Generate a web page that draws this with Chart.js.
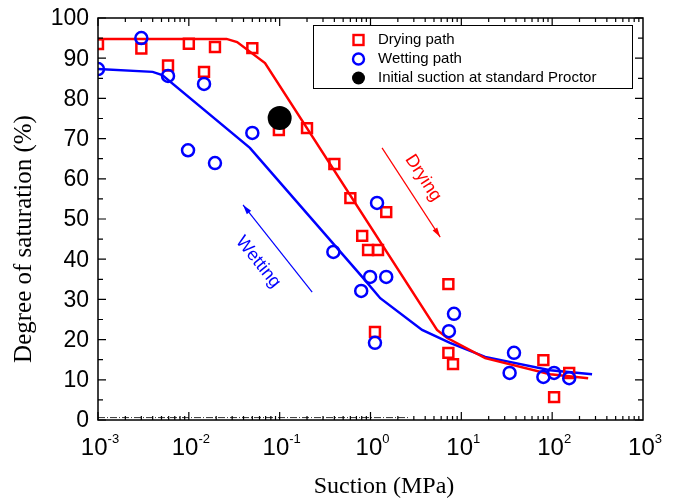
<!DOCTYPE html>
<html>
<head>
<meta charset="utf-8">
<script src="https://cdn.jsdelivr.net/npm/chart.js@4"></script>
<style>
  body { margin: 0; background: #fff; }
  #wrap { width: 676px; height: 502px; }
</style>
</head>
<body>
<div id="wrap"><canvas id="chartCanvas" width="676" height="502"></canvas></div>
<script>
// suction (MPa) and degree of saturation (%)
const dryX = [0.001, 0.003, 0.0059, 0.010, 0.0147, 0.0194, 0.050, 0.098, 0.20, 0.40, 0.60, 1.49, 0.81, 0.94, 1.21, 1.12, 7.2, 7.2, 8.1, 80, 105, 154];
const dryY = [93.5, 92.4, 88.2, 93.6, 86.6, 92.8, 92.5, 72.1, 72.6, 63.7, 55.2, 51.7, 45.8, 42.3, 42.3, 21.9, 33.8, 16.7, 13.9, 14.9, 5.7, 11.7];

const wetX = [0.001, 0.003, 0.0059, 0.0147, 0.0098, 0.0194, 0.050, 0.39, 1.18, 0.99, 1.49, 0.79, 1.12, 8.3, 7.3, 38, 34, 80, 105, 154];
const wetY = [87.3, 95.0, 85.6, 83.6, 67.1, 63.9, 71.4, 41.8, 54.0, 35.6, 35.6, 32.1, 19.2, 26.4, 22.1, 16.7, 11.7, 10.7, 11.7, 10.4];

const initX = [0.1];
const initY = [75.1];

const dryCurveX = [0.001, 0.026, 0.034, 0.069, 5.4, 7.0, 18.3, 95, 249];
const dryCurveY = [94.8, 94.8, 94.0, 88.8, 22.4, 20.4, 15.4, 11.4, 10.4];

const wetCurveX = [0.001, 0.004, 0.0051, 0.047, 0.81, 1.28, 3.7, 7.5, 18.3, 95, 275];
const wetCurveY = [87.3, 86.6, 85.8, 67.7, 35.6, 30.3, 22.4, 19.2, 15.7, 12.4, 11.4];

const baseX = [0.001, 2.6];
const baseY = [0.6, 0.6];

const xDecades = [-3, -2, -1, 0, 1, 2, 3];
const yTicks = [0, 10, 20, 30, 40, 50, 60, 70, 80, 90, 100];

const pts = (xs, ys) => xs.map((x, i) => ({ x: x, y: ys[i] }));

const RED = '#ff0000';
const BLUE = '#0000ff';
const SANS = '"Liberation Sans", Arial, sans-serif';
const SERIF = '"Liberation Serif", "Times New Roman", serif';

const axesPlugin = {
  id: 'axesPlugin',
  afterDraw(c) {
    const ctx = c.ctx;
    const a = c.chartArea;
    const xs = c.scales.x, ys = c.scales.y;
    ctx.save();
    ctx.strokeStyle = '#000';
    ctx.lineWidth = 1.5;
    ctx.strokeRect(a.left, a.top, a.right - a.left, a.bottom - a.top);

    // y ticks, left and right, inward
    ctx.lineWidth = 1.2;
    for (let v = 0; v <= 100; v += 5) {
      const py = ys.getPixelForValue(v);
      const len = v % 10 === 0 ? 8 : 5;
      ctx.beginPath();
      ctx.moveTo(a.left, py); ctx.lineTo(a.left + len, py);
      ctx.moveTo(a.right, py); ctx.lineTo(a.right - len, py);
      ctx.stroke();
    }
    // x ticks, bottom and top, inward
    for (let d = -3; d < 3; d++) {
      for (let m = 1; m <= 9; m++) {
        const px = xs.getPixelForValue(m * Math.pow(10, d));
        const len = m === 1 ? 8 : 4;
        ctx.beginPath();
        ctx.moveTo(px, a.bottom); ctx.lineTo(px, a.bottom - len);
        ctx.moveTo(px, a.top); ctx.lineTo(px, a.top + len);
        ctx.stroke();
      }
    }

    // tick labels
    ctx.fillStyle = '#000';
    ctx.font = '23px ' + SANS;
    ctx.textAlign = 'right';
    ctx.textBaseline = 'middle';
    yTicks.forEach(v => ctx.fillText(String(v), a.left - 9, ys.getPixelForValue(v) + 1));

    xDecades.forEach(d => {
      const px = xs.getPixelForValue(Math.pow(10, d));
      ctx.textBaseline = 'alphabetic';
      ctx.textAlign = 'left';
      ctx.font = '24px ' + SANS;
      const w1 = ctx.measureText('10').width;
      ctx.font = '13px ' + SANS;
      const ex = String(d);
      const w2 = ctx.measureText(ex).width;
      const x0 = px - (w1 + w2) / 2 + 2;
      ctx.font = '24px ' + SANS;
      ctx.fillText('10', x0, a.bottom + 35);
      ctx.font = '13px ' + SANS;
      ctx.fillText(ex, x0 + w1, a.bottom + 23);
    });

    // axis titles
    ctx.font = '24px ' + SERIF;
    ctx.textAlign = 'center';
    ctx.textBaseline = 'middle';
    ctx.fillText('Suction (MPa)', 384, 487);
    ctx.save();
    ctx.translate(24, 239);
    ctx.rotate(-Math.PI / 2);
    ctx.font = '25px ' + SERIF;
    ctx.fillText('Degree of saturation (%)', 0, 0);
    ctx.restore();

    // arrows and labels
    const arrow = (x1, y1, x2, y2, col) => {
      const p1 = [xs.getPixelForValue(x1), ys.getPixelForValue(y1)];
      const p2 = [xs.getPixelForValue(x2), ys.getPixelForValue(y2)];
      const ang = Math.atan2(p2[1] - p1[1], p2[0] - p1[0]);
      ctx.strokeStyle = col; ctx.fillStyle = col; ctx.lineWidth = 1.2;
      ctx.beginPath(); ctx.moveTo(p1[0], p1[1]); ctx.lineTo(p2[0], p2[1]); ctx.stroke();
      ctx.beginPath();
      ctx.moveTo(p2[0], p2[1]);
      ctx.lineTo(p2[0] - 10 * Math.cos(ang - 0.28), p2[1] - 10 * Math.sin(ang - 0.28));
      ctx.lineTo(p2[0] - 10 * Math.cos(ang + 0.28), p2[1] - 10 * Math.sin(ang + 0.28));
      ctx.closePath(); ctx.fill();
    };
    const label = (txt, x, y, rot, col) => {
      ctx.save();
      ctx.translate(xs.getPixelForValue(x), ys.getPixelForValue(y));
      ctx.rotate(rot * Math.PI / 180);
      ctx.fillStyle = col;
      ctx.font = '18px ' + SANS;
      ctx.textAlign = 'center'; ctx.textBaseline = 'middle';
      ctx.fillText(txt, 0, 0);
      ctx.restore();
    };
    arrow(1.34, 67.7, 5.85, 45.5, RED);
    label('Drying', 3.8, 60.2, 57, RED);
    arrow(0.228, 31.8, 0.0395, 53.5, BLUE);
    label('Wetting', 0.058, 39.3, 51, BLUE);

    // legend
    ctx.strokeStyle = '#000'; ctx.lineWidth = 1;
    ctx.strokeRect(313.5, 25.5, 319, 63);
    ctx.font = '15px ' + SANS;
    ctx.textAlign = 'left'; ctx.textBaseline = 'middle';
    ctx.lineWidth = 2.4;
    ctx.strokeStyle = RED;
    ctx.strokeRect(353.5, 35, 10, 10);
    ctx.strokeStyle = BLUE;
    ctx.beginPath(); ctx.arc(358.5, 59, 5.5, 0, Math.PI * 2); ctx.stroke();
    ctx.fillStyle = '#000';
    ctx.beginPath(); ctx.arc(358.5, 78, 6.5, 0, Math.PI * 2); ctx.fill();
    ctx.fillText('Drying path', 378, 40);
    ctx.fillText('Wetting path', 378, 59);
    ctx.fillText('Initial suction at standard Proctor', 378, 78);
    ctx.restore();
  }
};

const ctx = document.getElementById('chartCanvas').getContext('2d');
const chart = new Chart(ctx, {
  type: 'scatter',
  data: {
    datasets: [
      { label: 'Initial', data: pts(initX, initY), pointStyle: 'circle', pointRadius: 12,
        backgroundColor: '#000', borderColor: '#000', borderWidth: 0, order: 0 },
      { label: 'Wetting path', data: pts(wetX, wetY), pointStyle: 'circle', pointRadius: 6,
        backgroundColor: 'rgba(0,0,0,0)', borderColor: BLUE, borderWidth: 2.5, order: 1 },
      { label: 'Drying path', data: pts(dryX, dryY), pointStyle: 'rect', pointRadius: 7,
        backgroundColor: 'rgba(0,0,0,0)', borderColor: RED, borderWidth: 2.5, order: 2 },
      { label: 'dry fit', data: pts(dryCurveX, dryCurveY), showLine: true, pointRadius: 0,
        borderColor: RED, borderWidth: 2.5, order: 3 },
      { label: 'wet fit', data: pts(wetCurveX, wetCurveY), showLine: true, pointRadius: 0,
        borderColor: BLUE, borderWidth: 2.5, order: 4 },
      { label: 'base', data: pts(baseX, baseY), showLine: true, pointRadius: 0,
        borderColor: '#333', borderWidth: 1, borderDash: [7, 2, 1, 2], order: 5 }
    ]
  },
  options: {
    responsive: false,
    animation: false,
    layout: { padding: { left: 98, right: 33, top: 18, bottom: 82 } },
    scales: {
      x: { type: 'logarithmic', min: 0.001, max: 1000, display: false },
      y: { type: 'linear', min: 0, max: 100, display: false }
    },
    plugins: { legend: { display: false }, tooltip: { enabled: false } }
  },
  plugins: [axesPlugin]
});
</script>
</body>
</html>
